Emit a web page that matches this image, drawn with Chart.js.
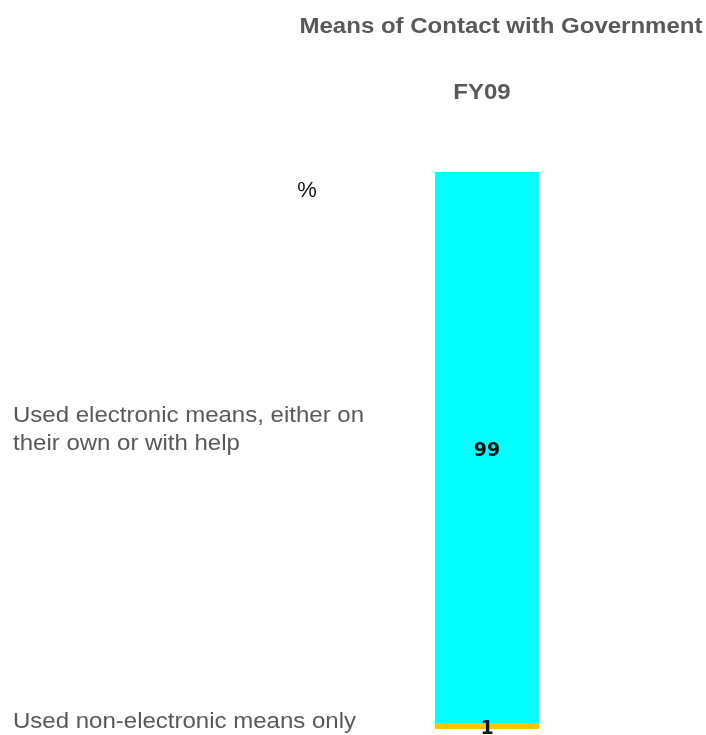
<!DOCTYPE html>
<html>
<head>
<meta charset="utf-8">
<script src="https://cdn.jsdelivr.net/npm/chart.js@4"></script>
<style>
	html, body { margin: 0; padding: 0; background: #fff; }
	#wrap { width: 706px; height: 735px; position: relative; }
</style>
</head>
<body>
<div id="wrap"><canvas id="chart"></canvas></div>
<script>
let title = 'Means of Contact with Government';
let categories = ['FY09'];
let unitLabel = '%';

let nonElectronicLabel = ['Used non-electronic means only'];
let electronicLabel = ['Used electronic means, either on', 'their own or with help'];

let nonElectronic = [1];
let electronic = [99];

// the source picture has slightly wide text, so stretch it horizontally
function fillWide(ctx, text, x, y, sx, align) {
	let w = ctx.measureText(text).width * sx;
	let left = x;
	if (align === 'center') left = x - w / 2;
	if (align === 'right') left = x - w;
	ctx.save();
	ctx.textAlign = 'left';
	ctx.translate(left, y);
	ctx.scale(sx, 1);
	ctx.fillText(text, 0, 0);
	ctx.restore();
}

let textPlugin = {
	id: 'texts',
	afterDatasetsDraw(chart) {
		let ctx = chart.ctx;
		let x = chart.scales.x;
		let y = chart.scales.y;
		let cx = x.getPixelForValue(0);
		ctx.save();

		ctx.fillStyle = '#595959';
		ctx.textBaseline = 'alphabetic';
		ctx.font = 'bold 22px "Liberation Sans", Arial, sans-serif';
		let sx = 403 / ctx.measureText(title).width;
		fillWide(ctx, title, 501, 33, sx, 'center');
		fillWide(ctx, categories[0], cx - 5, 99, sx, 'center');

		ctx.fillStyle = '#111';
		ctx.font = '22px "Liberation Sans", Arial, sans-serif';
		fillWide(ctx, unitLabel, 307, chart.chartArea.top + 25, 1.0, 'center');

		let segs = [
			{lines: nonElectronicLabel, from: 0, value: nonElectronic[0]},
			{lines: electronicLabel, from: nonElectronic[0], value: electronic[0]}
		];
		ctx.font = '22px "Liberation Sans", Arial, sans-serif';
		let lx = 351 / ctx.measureText(electronicLabel[0]).width;
		segs.forEach(s => {
			let mid = y.getPixelForValue(s.from + s.value / 2);
			ctx.fillStyle = '#595959';
			ctx.font = '22px "Liberation Sans", Arial, sans-serif';
			ctx.textBaseline = 'alphabetic';
			let n = s.lines.length;
			s.lines.forEach((line, i) => {
				fillWide(ctx, line, 13, mid + 2 - (n - 1 - i) * 28, lx, 'left');
			});
			ctx.fillStyle = '#111';
			ctx.font = 'bold 19px "DejaVu Sans", sans-serif';
			ctx.textAlign = 'center';
			ctx.textBaseline = 'middle';
			ctx.fillText(String(s.value), cx, mid + 3);
		});
		ctx.restore();
	}
};

new Chart(document.querySelector('#chart'), {
	type: 'bar',
	data: {
		labels: categories,
		datasets: [
			{
				label: nonElectronicLabel.join(' '),
				data: nonElectronic,
				backgroundColor: '#FFC400',
				barPercentage: 1,
				categoryPercentage: 1
			},
			{
				label: electronicLabel.join(' '),
				data: electronic,
				backgroundColor: '#00FFFF',
				barPercentage: 1,
				categoryPercentage: 1
			}
		]
	},
	options: {
		responsive: true,
		maintainAspectRatio: false,
		animation: false,
		layout: {
			padding: {left: 435, right: 167, top: 172, bottom: 6}
		},
		plugins: {
			legend: {display: false},
			tooltip: {enabled: false}
		},
		scales: {
			x: {stacked: true, display: false},
			y: {stacked: true, display: false, min: 0, max: 100}
		}
	},
	plugins: [textPlugin]
});
</script>
</body>
</html>
